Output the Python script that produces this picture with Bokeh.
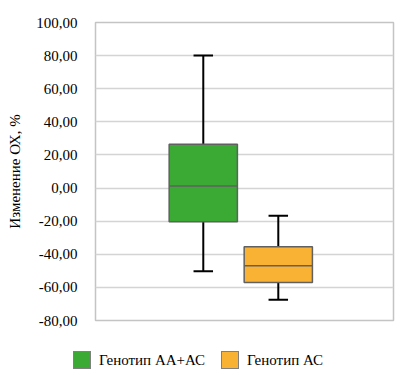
from bokeh.plotting import figure
from bokeh.layouts import column
from bokeh.models import Range1d, CustomJSTickFormatter, FixedTicker, ColumnDataSource, Div
from bokeh.embed import file_html
from bokeh.resources import INLINE

groups = ["Генотип АА+АС", "Генотип АС"]
pos = [1, 2]
whisker_low = [-50.3, -67.4]
q1 = [-20.3, -57.1]
median = [1.2, -46.9]
q3 = [26.5, -35.5]
whisker_high = [80.0, -16.7]
colors = ["#3aaa35", "#f9b233"]
y_ticks = [-80, -60, -40, -20, 0, 20, 40, 60, 80, 100]

FONT = "'Liberation Serif', 'Times New Roman', serif"

p = figure(frame_width=298, frame_height=298, output_backend="svg", toolbar_location=None,
           x_range=Range1d(-0.437, 3.536), y_range=Range1d(-80, 100),
           min_border_left=95, min_border_right=8, min_border_top=22, min_border_bottom=10)

cap = 0.13
src = ColumnDataSource(dict(x=pos, lo=whisker_low, hi=whisker_high,
                            xl=[v - cap for v in pos], xr=[v + cap for v in pos]))

p.segment(x0="x", y0="lo", x1="x", y1="hi", source=src, line_color="black", line_width=2)
p.segment(x0="xl", y0="hi", x1="xr", y1="hi", source=src, line_color="black", line_width=2)
p.segment(x0="xl", y0="lo", x1="xr", y1="lo", source=src, line_color="black", line_width=2)

for i in range(len(groups)):
    p.vbar(x=pos[i], width=0.91, bottom=q1[i], top=q3[i], fill_color=colors[i],
           line_color="#606060", line_width=1.5)
p.segment(x0=[v - 0.455 for v in pos], y0=median, x1=[v + 0.455 for v in pos], y1=median,
          line_color="#606060", line_width=1.5)

p.xaxis.visible = False
p.xgrid.visible = False
p.ygrid.grid_line_color = "#d4d4d4"
p.ygrid.grid_line_width = 1.5
p.outline_line_color = "#c4c4c4"
p.outline_line_width = 1.5

ax = p.yaxis[0]
ax.ticker = FixedTicker(ticks=y_ticks)
ax.formatter = CustomJSTickFormatter(code="return tick.toFixed(2).replace('.', ',');")
ax.axis_line_color = None
ax.major_tick_line_color = None
ax.minor_tick_line_color = None
ax.major_label_standoff = 12
ax.major_label_text_font = FONT
ax.major_label_text_font_size = "15px"
ax.major_label_text_color = "black"
ax.axis_label = "Изменение ОХ, %"
ax.axis_label_text_font = FONT
ax.axis_label_text_font_size = "15px"
ax.axis_label_text_font_style = "normal"
ax.axis_label_text_color = "black"
ax.axis_label_standoff = 10

# HTML legend below the chart
items_html = ""
for i in range(len(groups)):
    items_html += (
        f'<span style="display:inline-block;width:18px;height:18px;box-sizing:border-box;'
        f'background:{colors[i]};border:1.5px solid #808080;margin-right:8px;"></span>'
        f'<span style="margin-right:16px;">{groups[i]}</span>'
    )
legend_div = Div(
    text=(f'<div style="display:flex;align-items:center;padding-left:73px;padding-top:21px;'
          f'font-family:{FONT};font-size:15px;color:black;line-height:18px;white-space:nowrap;">'
          f'{items_html}</div>'),
    width=403, height=50, margin=0,
)

layout = column(p, legend_div, spacing=0)
open("out.html", "w").write(file_html(layout, INLINE))
